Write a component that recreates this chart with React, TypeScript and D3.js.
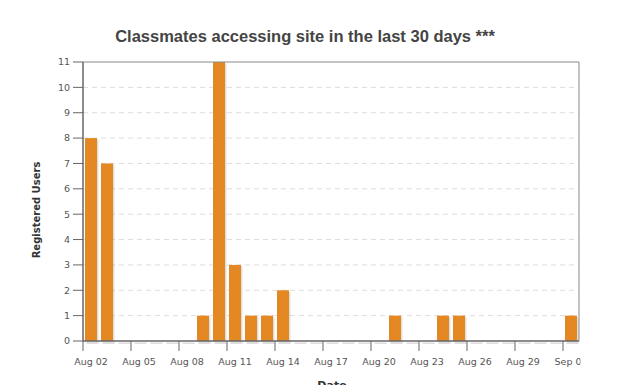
import React from 'react';
import * as d3 from 'd3';

// data: one value per day, Aug 02 .. Sep 01
const startDay = new Date(2015, 7, 2);
const endDay = new Date(2015, 8, 2);
const userCounts = [8, 7, 0, 0, 0, 0, 0, 1, 11, 3, 1, 1, 2, 0, 0, 0, 0, 0, 0, 1, 0, 0, 1, 1, 0, 0, 0, 0, 0, 0, 1];
const yTicks = [0, 1, 2, 3, 4, 5, 6, 7, 8, 9, 10, 11];
const xTickLabels = ['Aug 02', 'Aug 05', 'Aug 08', 'Aug 11', 'Aug 14', 'Aug 17', 'Aug 20', 'Aug 23', 'Aug 26', 'Aug 29', 'Sep 01'];

const W = 626;
const H = 385;
const margin = { top: 62, left: 83, right: 47, bottom: 44 };

const App = () => {
  const innerW = W - margin.left - margin.right;
  const innerH = H - margin.top - margin.bottom;

  const xScale = d3.scaleTime().domain([startDay, endDay]).range([0, innerW]);
  const yScale = d3.scaleLinear().domain([0, 11]).range([innerH, 0]);

  const days = userCounts.map((v, i) => ({ date: d3.timeDay.offset(startDay, i), value: v }));
  const dayW = xScale(d3.timeDay.offset(startDay, 1)) - xScale(startDay);
  const barW = 12;
  const barPad = 2;

  const tickDates = xTickLabels.map((_, i) => d3.timeDay.offset(startDay, i * 3));
  const axisColor = '#666';
  const labelFont = 'DejaVu Sans, Verdana, sans-serif';

  return (
    <svg width={W} height={H} style={{ position: 'absolute', left: 0, top: 0, background: '#fff' }}>
      <defs>
        <clipPath id="tick-clip">
          <rect x={0} y={0} width={margin.left + innerW + 1.5} height={H} />
        </clipPath>
      </defs>
      <text x={305} y={42} textAnchor="middle" fontFamily="Liberation Sans, Arial, sans-serif"
        fontWeight="bold" fontSize={16.5} fill="#444">
        Classmates accessing site in the last 30 days ***
      </text>

      <g transform={`translate(${margin.left},${margin.top})`}>
        {/* grid */}
        {yTicks.filter(t => t > 0 && t < 11).map(t => (
          <line key={'g' + t} x1={0} x2={innerW} y1={yScale(t)} y2={yScale(t)}
            stroke="#ddd" strokeDasharray="5,4" />
        ))}

        {/* bar shadows */}
        {days.map((d, i) => {
          const x = xScale(d.date) + barPad;
          const y = yScale(d.value);
          return (
            <rect key={'s' + i} x={x + 1.5} y={y + 1.5} width={barW} height={innerH - y + 1.5}
              fill="#000" fillOpacity={0.13} />
          );
        })}
        {/* bars */}
        {days.filter(d => d.value > 0).map((d, i) => {
          const x = xScale(d.date) + barPad;
          const y = yScale(d.value);
          return (
            <rect key={'b' + i} x={x} y={y} width={Math.min(barW, dayW)} height={innerH - y}
              fill="#e38822" />
          );
        })}

        {/* frame */}
        <line x1={0} x2={innerW} y1={0} y2={0} stroke="#888" />
        <line x1={innerW} x2={innerW} y1={0} y2={innerH} stroke="#888" />
        <line x1={0} x2={0} y1={0} y2={innerH} stroke={axisColor} strokeWidth={1.5} />
        <line x1={0} x2={innerW} y1={innerH} y2={innerH} stroke={axisColor} strokeWidth={1.5} />

        {/* y axis */}
        {yTicks.map(t => (
          <g key={'y' + t} transform={`translate(0,${yScale(t)})`}>
            <line x1={-10} x2={0} stroke={axisColor} />
            <text x={-13} dy="0.35em" textAnchor="end" fontFamily={labelFont} fontSize={9.5} fill="#555">{t}</text>
          </g>
        ))}
      </g>

      {/* x axis */}
      <g clipPath="url(#tick-clip)">
        <g transform={`translate(${margin.left},${margin.top + innerH})`}>
          {tickDates.map((d, i) => (
            <g key={'x' + i} transform={`translate(${xScale(d)},0)`}>
              <line y1={0} y2={10} stroke={axisColor} />
              <text x={dayW / 2} y={24} textAnchor="middle" fontFamily={labelFont} fontSize={9.5} fill="#555">
                {xTickLabels[i]}
              </text>
            </g>
          ))}
        </g>
      </g>

      <text transform={`translate(40,${210}) rotate(-90)`} textAnchor="middle" fontFamily={labelFont}
        fontWeight="bold" fontSize={10} fill="#333">Registered Users</text>
      <text x={332} y={389} textAnchor="middle" fontFamily={labelFont} fontWeight="bold" fontSize={11} fill="#333">Date</text>
    </svg>
  );
};

export default App;
